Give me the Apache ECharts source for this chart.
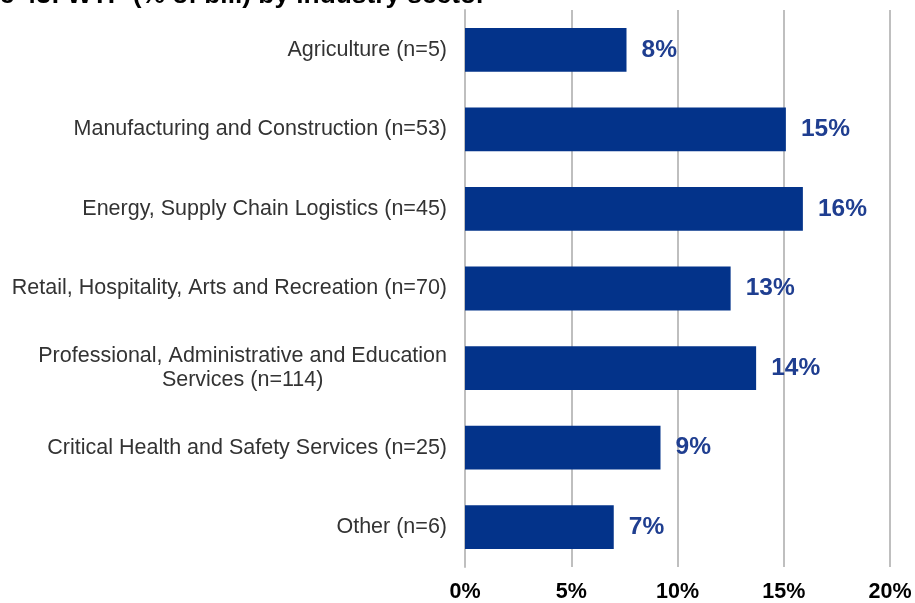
<!DOCTYPE html>
<html>
<head>
<meta charset="utf-8">
<script src="https://cdn.jsdelivr.net/npm/echarts@6/dist/echarts.min.js"></script>
<style>
  html, body { margin: 0; padding: 0; background: #ffffff; }
  #chart { width: 915px; height: 603px; }
</style>
</head>
<body>
<div id="chart"></div>
<script>
// Willingness to pay (% of bill) by industry sector
const sectors = [
  'Agriculture (n=5)',
  'Manufacturing and Construction (n=53)',
  'Energy, Supply Chain Logistics (n=45)',
  'Retail, Hospitality, Arts and Recreation (n=70)',
  'Professional, Administrative and Education\nServices (n=114)',
  'Critical Health and Safety Services (n=25)',
  'Other (n=6)'
];
const wtpValues = [7.6, 15.1, 15.9, 12.5, 13.7, 9.2, 7.0];
const xTicks = [0, 5, 10, 15, 20];

const chart = echarts.init(document.getElementById('chart'));
chart.setOption({
  animation: false,
  title: {
    text: 'Figure 43: WTP (% of bill) by industry sector',
    left: -71,
    top: -22,
    textStyle: { fontFamily: 'Liberation Sans', fontSize: 26.3, fontWeight: 'bold', color: '#000' }
  },
  grid: { left: 465, right: 25, top: 10, bottom: 35, containLabel: false },
  xAxis: {
    type: 'value',
    min: xTicks[0],
    max: xTicks[xTicks.length - 1],
    interval: 5,
    axisLine: { show: false },
    axisTick: { show: false },
    splitLine: { show: true, lineStyle: { color: '#bfbfbf', width: 2 } },
    axisLabel: {
      margin: 14,
      formatter: v => v + '%',
      fontFamily: 'Liberation Sans', fontSize: 21.5, fontWeight: 'bold', color: '#000'
    }
  },
  yAxis: {
    type: 'category',
    data: sectors,
    inverse: true,
    axisLine: { show: true, lineStyle: { color: '#bfbfbf', width: 2 } },
    axisTick: { show: false },
    axisLabel: {
      margin: 18,
      fontFamily: 'Liberation Sans', fontSize: 21.5, color: '#333', lineHeight: 24,
      formatter: v => v.split('\n').map(s => '{c|' + s + '}').join('\n'),
      rich: { c: { align: 'center', fontFamily: 'Liberation Sans', fontSize: 21.5, color: '#333', lineHeight: 24 } }
    }
  },
  series: [{
    type: 'bar',
    data: wtpValues,
    barWidth: '55%',
    itemStyle: { color: '#03338a' },
    label: {
      show: true,
      position: 'right',
      distance: 15,
      formatter: p => Math.round(p.value) + '%',
      fontFamily: 'Liberation Sans', fontSize: 24.5, fontWeight: 'bold', color: '#1f3e90'
    }
  }]
});
</script>
</body>
</html>
